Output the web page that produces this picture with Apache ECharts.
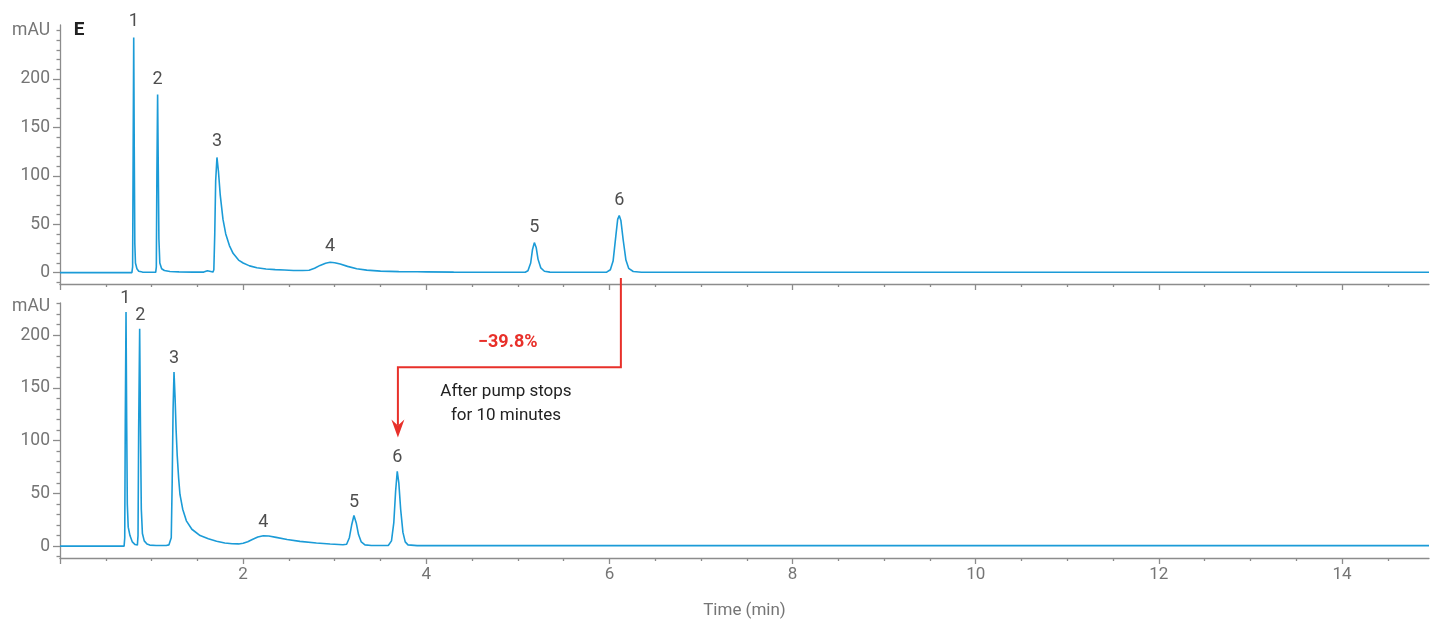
<!DOCTYPE html>
<html>
<head>
<meta charset="utf-8">
<script src="https://cdn.jsdelivr.net/npm/echarts@6/dist/echarts.min.js"></script>
<style>
html,body{margin:0;padding:0;background:#fff;}
#main{width:1430px;height:620px;}
</style>
</head>
<body>
<div id="main"></div>
<script>
// ---------- DATA ----------
// Top chromatogram (normal run): [time (min), mAU]
const topTrace = [
[0,0],[0.785,0],[0.793,6],[0.799,125],[0.805,243],[0.811,125],[0.817,30],[0.824,10],[0.84,4],[0.86,1.5],[0.9,0.6],[1.0,0.4],
[1.045,0.4],[1.052,6],[1.058,100],[1.066,184],[1.073,110],[1.08,35],[1.09,10],[1.11,4],[1.14,2.2],[1.2,1.2],[1.3,0.8],[1.45,0.6],
[1.57,0.6],[1.59,1.6],[1.61,2],[1.63,0.8],[1.67,0.6],[1.68,3],[1.69,40],[1.70,95],[1.714,119],[1.73,105],[1.75,80],[1.78,55],
[1.81,40],[1.85,28],[1.89,20],[1.95,13],[2.0,10],[2.07,7],[2.15,5],[2.25,3.8],[2.35,3.1],[2.45,2.7],[2.55,2.3],[2.65,2.2],
[2.72,2.5],[2.78,4.5],[2.84,7.5],[2.9,9.8],[2.95,10.7],[3.0,10.3],[3.06,9],[3.14,6.5],[3.24,4],[3.35,2.6],[3.5,1.6],[3.7,1.1],
[3.9,0.9],[4.0,0.8],[4.3,0.6],[4.8,0.5],[4.82,0.9],[4.84,0.5],[5.08,0.5],[5.11,2],[5.14,10],[5.16,24],[5.18,31],[5.2,26],
[5.22,14],[5.25,5],[5.29,1.5],[5.35,0.6],[5.97,0.5],[6.01,3],[6.04,12],[6.07,38],[6.09,55],[6.107,59],[6.125,54],[6.15,34],
[6.18,13],[6.21,4.5],[6.26,1.2],[6.35,0.5],[7.95,0.5],[7.96,1.0],[7.97,0.5],[14.95,0.5]
];
// Bottom chromatogram (after pump stops for 10 minutes)
const bottomTrace = [
[0,0],[0.70,0],[0.707,8],[0.713,120],[0.721,222],[0.728,120],[0.735,40],[0.745,18],[0.764,10],[0.79,4],[0.82,1.5],[0.845,1],
[0.852,10],[0.859,110],[0.870,206],[0.879,110],[0.888,35],[0.9,12],[0.92,5],[0.95,2],[0.98,1],[1.05,0.6],[1.16,0.6],[1.175,1.8],
[1.19,1.2],[1.205,1],[1.215,8],[1.225,60],[1.235,130],[1.245,165],[1.257,140],[1.268,110],[1.28,86],[1.295,65],[1.31,49],
[1.34,35],[1.38,24],[1.44,16],[1.53,10],[1.62,7],[1.71,4.7],[1.8,3],[1.88,2.2],[1.95,2.1],[2.0,2.8],[2.05,4.2],[2.1,6.3],[2.16,8.6],
[2.22,9.8],[2.28,9.6],[2.36,8.3],[2.48,6.3],[2.62,4.5],[2.8,3],[2.95,2],[3.09,1.3],[3.13,1.8],[3.16,8],[3.185,20],[3.21,29],
[3.235,22],[3.26,11],[3.29,4],[3.33,1.2],[3.4,0.6],[3.585,0.6],[3.62,5],[3.645,22],[3.665,52],[3.683,71],[3.70,60],[3.72,35],
[3.745,13],[3.77,4],[3.8,1.2],[3.9,0.5],[5.0,0.5],[5.02,0.9],[5.04,0.5],[14.95,0.5]
];
// Peak numbering (apex time, apex height)
const peakNames = ['1','2','3','4','5','6'];
const topPeakTimes = [0.805,1.066,1.714,2.95,5.18,6.107];
const topPeakHeights = [243,184,119,10.7,31,59];
const bottomPeakTimes = [0.712,0.878,1.245,2.22,3.21,3.683];
const bottomPeakHeights = [222,206,165,9.8,29,71];
// Axis ticks
const xMajorTicks = [0,2,4,6,8,10,12,14];
const xLabels = [2,4,6,8,10,12,14];
const xMinorTicks = [0.5,1,1.5,2.5,3,3.5,4.5,5,5.5,6.5,7,7.5,8.5,9,9.5,10.5,11,11.5,12.5,13,13.5,14.5];
const topYMajor = [0,50,100,150,200];
const topYMinor = [-10,10,20,30,40,60,70,80,90,110,120,130,140,160,170,180,190,210,220,230,240,250];
const bottomYMajor = [0,50,100,150,200];
const bottomYMinor = [-10,10,20,30,40,60,70,80,90,110,120,130,140,160,170,180,190,210,220,230];
// Annotation
const shiftFrom = 6.125, shiftTo = 3.69;
const changeText = '\u221239.8%';
const noteLines = ['After pump stops', 'for 10 minutes'];
const yUnit = 'mAU';
const panelLetter = 'E';
const xName = 'Time (min)';

// ---------- CHART ----------
const FONT = 'Roboto';
const AXIS_COLOR = '#8c8c8c';
const LABEL_COLOR = '#757575';
const TRACE_COLOR = '#1b9bd7';
const RED = '#e8302a';
const X_MIN = 0, X_MAX = 14.95;
const TOP_MIN = -11.7, TOP_MAX = 255.8;
const BOT_MIN = -11.25, BOT_MAX = 230.5;

const chart = echarts.init(document.getElementById('main'), null, {renderer: 'canvas'});

function xAxisMain(grid, showLabels) {
  return {
    type: 'value', gridIndex: grid, min: X_MIN, max: X_MAX, position: 'bottom',
    axisLine: {show: true, onZero: false, lineStyle: {color: AXIS_COLOR, width: 1.3}},
    axisTick: {show: true, length: 6, customValues: xMajorTicks, lineStyle: {color: AXIS_COLOR, width: 1.3}},
    axisLabel: {show: showLabels, customValues: xLabels, color: LABEL_COLOR, fontFamily: FONT, fontSize: 17, margin: 8},
    splitLine: {show: false},
    name: showLabels ? xName : '',
    nameLocation: 'middle', nameGap: 44,
    nameTextStyle: {color: LABEL_COLOR, fontFamily: FONT, fontSize: 17}
  };
}
function xAxisMinor(grid) {
  return {
    type: 'value', gridIndex: grid, min: X_MIN, max: X_MAX, position: 'bottom',
    axisLine: {show: false, onZero: false},
    axisTick: {show: true, length: 3, customValues: xMinorTicks, lineStyle: {color: AXIS_COLOR, width: 1.3}},
    axisLabel: {show: false},
    splitLine: {show: false}
  };
}
function yAxisMain(grid, mn, mx, major) {
  return {
    type: 'value', gridIndex: grid, min: mn, max: mx, position: 'left',
    axisLine: {show: true, onZero: false, lineStyle: {color: AXIS_COLOR, width: 1.3}},
    axisTick: {show: true, length: 7, customValues: major, lineStyle: {color: AXIS_COLOR, width: 1.3}},
    axisLabel: {show: true, customValues: major, color: LABEL_COLOR, fontFamily: FONT, fontSize: 17.5, margin: 10},
    splitLine: {show: false}
  };
}
function yAxisMinor(grid, mn, mx, minor) {
  return {
    type: 'value', gridIndex: grid, min: mn, max: mx, position: 'left',
    axisLine: {show: false, onZero: false},
    axisTick: {show: true, length: 3.5, customValues: minor, lineStyle: {color: AXIS_COLOR, width: 1.3}},
    axisLabel: {show: false},
    splitLine: {show: false}
  };
}

function labelData(times, heights) {
  return times.map((t, i) => ({name: peakNames[i], value: [t, heights[i]]}));
}
function labelSeries(xi, yi, times, heights, dist) {
  return {
    type: 'scatter', xAxisIndex: xi, yAxisIndex: yi, symbolSize: 1, clip: false,
    itemStyle: {color: 'rgba(0,0,0,0)'},
    silent: true,
    label: {show: true, position: 'top', distance: dist, formatter: p => p.name,
            color: '#222', fontFamily: FONT, fontSize: 18},
    data: labelData(times, heights)
  };
}

const option = {
  animation: false,
  backgroundColor: '#fff',
  grid: [
    {left: 60, right: 1, top: 25, height: 259},
    {left: 60, right: 1, top: 303, height: 258}
  ],
  xAxis: [xAxisMain(0, false), xAxisMinor(0), xAxisMain(1, true), xAxisMinor(1)],
  yAxis: [
    yAxisMain(0, TOP_MIN, TOP_MAX, topYMajor), yAxisMinor(0, TOP_MIN, TOP_MAX, topYMinor),
    yAxisMain(1, BOT_MIN, BOT_MAX, bottomYMajor), yAxisMinor(1, BOT_MIN, BOT_MAX, bottomYMinor)
  ],
  series: [
    {type: 'line', xAxisIndex: 0, yAxisIndex: 0, data: topTrace, showSymbol: false,
     lineStyle: {color: TRACE_COLOR, width: 1.6}, z: 3},
    {type: 'line', xAxisIndex: 2, yAxisIndex: 2, data: bottomTrace, showSymbol: false,
     lineStyle: {color: TRACE_COLOR, width: 1.6}, z: 3},
    labelSeries(0, 0, topPeakTimes, topPeakHeights, 6),
    labelSeries(2, 2, bottomPeakTimes, bottomPeakHeights, 4)
  ]
};
chart.setOption(option);

// Annotation & axis units positioned through the axes
function px(xi, yi, pt) { return chart.convertToPixel({xAxisIndex: xi, yAxisIndex: yi}, pt); }
const start = px(0, 0, [shiftFrom, -5.5]);
const c1 = px(2, 2, [shiftFrom, 169.7]);
const c2 = px(2, 2, [shiftTo, 169.7]);
const tip = px(2, 2, [shiftTo, 103]);
const t1 = px(2, 2, [4.89, 193]);
const n1 = px(2, 2, [4.87, 146]);
const n2 = px(2, 2, [4.87, 124]);
const u1 = px(0, 0, [0, 250]);
const u2 = px(2, 2, [0, 227]);
const eP = px(0, 0, [0.15, 250]);

chart.setOption({
  graphic: [
    {type: 'polyline', shape: {points: [start, c1, c2, [tip[0], tip[1] - 12]]},
     style: {stroke: RED, lineWidth: 2, fill: null}, z: 10},
    {type: 'polygon', shape: {points: [[tip[0] - 6.5, tip[1] - 18], [tip[0], tip[1] - 12], [tip[0] + 6.5, tip[1] - 18], [tip[0], tip[1]]]},
     style: {fill: RED}, z: 10},
    {type: 'text', x: t1[0], y: t1[1], style: {text: changeText, fill: RED, font: 'bold 18px Roboto', align: 'center', verticalAlign: 'middle'}, z: 10},
    {type: 'text', x: n1[0], y: n1[1], style: {text: noteLines[0], fill: '#222', font: '17px Roboto', align: 'center', verticalAlign: 'middle'}, z: 10},
    {type: 'text', x: n2[0], y: n2[1], style: {text: noteLines[1], fill: '#222', font: '17px Roboto', align: 'center', verticalAlign: 'middle'}, z: 10},
    {type: 'text', x: u1[0] - 10, y: u1[1], style: {text: yUnit, fill: LABEL_COLOR, font: '17.5px Roboto', align: 'right', verticalAlign: 'middle'}, z: 10},
    {type: 'text', x: u2[0] - 10, y: u2[1], style: {text: yUnit, fill: LABEL_COLOR, font: '17.5px Roboto', align: 'right', verticalAlign: 'middle'}, z: 10},
    {type: 'text', x: eP[0], y: eP[1], style: {text: panelLetter, fill: '#222', font: 'bold 19px Roboto', align: 'left', verticalAlign: 'middle'}, z: 10}
  ]
});
</script>
</body>
</html>
